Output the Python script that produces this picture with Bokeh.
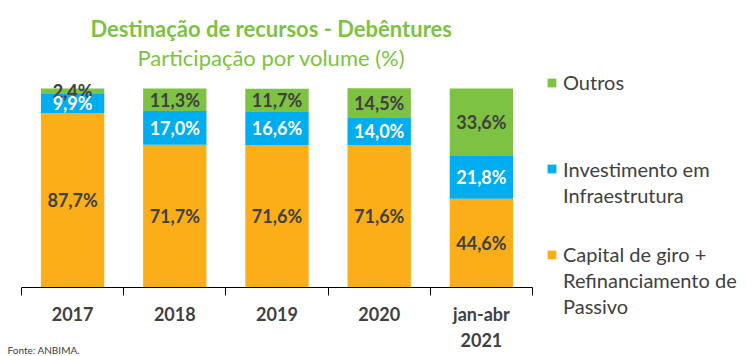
from bokeh.plotting import figure
from bokeh.models import (ColumnDataSource, Range1d, LinearAxis, FixedTicker, Title,
                          Legend, LegendItem, Label)
from bokeh.core.properties import value
from bokeh.embed import file_html
from bokeh.resources import INLINE

categories = ["2017", "2018", "2019", "2020", "jan-abr\n2021"]
capital = [87.7, 71.7, 71.6, 71.6, 44.6]
infra = [9.9, 17.0, 16.6, 14.0, 21.8]
outros = [2.4, 11.3, 11.7, 14.5, 33.6]

C_CAP = "#FBAE17"
C_INF = "#00AEEF"
C_OUT = "#7DC242"
DARK = "#404040"
FONT = "Lato"

W, H = 751, 356
TOP = 70                     # title band height
X0, X1 = 21, 532             # pixel span of the five categories
Y0, Y100 = 287, 88           # pixel rows of 0 % and 100 %
n = len(categories)
ux = (X1 - X0) / n
uy = (Y0 - Y100) / 100.0

xs = [i + 0.5 for i in range(n)]
src = ColumnDataSource(dict(x=xs, capital=capital, infra=infra, outros=outros))

p = figure(width=W, height=H, output_backend="svg", toolbar_location=None,
           x_range=Range1d(-X0 / ux, n + (W - X1) / ux),
           y_range=Range1d(-(H - Y0) / uy, 100 + (Y100 - TOP) / uy),
           x_axis_type=None, y_axis_type=None,
           min_border_left=0, min_border_right=0, min_border_top=TOP, min_border_bottom=0)
p.outline_line_color = None
p.xgrid.visible = False
p.ygrid.visible = False

rs = p.vbar_stack(["capital", "infra", "outros"], x="x", width=0.62, source=src,
                  color=[C_CAP, C_INF, C_OUT], line_color=None)

# data labels
lx, ly, lt, wx, wy, wt = [], [], [], [], [], []
for i, x in enumerate(xs):
    c, f, o = capital[i], infra[i], outros[i]
    lx += [x, x]
    ly += [c / 2, c + f + o / 2]
    lt += [f"{c:.1f}%".replace(".", ","), f"{o:.1f}%".replace(".", ",")]
    wx.append(x)
    wy.append(c + f / 2)
    wt.append(f"{f:.1f}%".replace(".", ","))
p.text(lx, ly, text=lt, text_align="center", text_baseline="middle",
       text_font=value(FONT), text_font_style="bold", text_font_size="18px", text_color=DARK)
p.text(wx, wy, text=wt, text_align="center", text_baseline="middle",
       text_font=value(FONT), text_font_style="bold", text_font_size="18px", text_color="white")

# category axis: labels at centres, tick marks at category boundaries
ax = LinearAxis(ticker=FixedTicker(ticks=xs, minor_ticks=list(range(n + 1))),
                fixed_location=0, bounds=(0, n))
ax.major_label_overrides = {x: c for x, c in zip(xs, categories)}
ax.axis_line_color = "black"
ax.major_tick_line_color = None
ax.major_tick_out = 0
ax.major_tick_in = 0
ax.minor_tick_line_color = "black"
ax.minor_tick_out = 8
ax.minor_tick_in = 0
ax.major_label_standoff = 7
ax.major_label_text_font = FONT
ax.major_label_text_font_style = "bold"
ax.major_label_text_font_size = "18px"
ax.major_label_text_color = DARK
ax.major_label_text_line_height = 1.2
p.add_layout(ax, "below")

# titles
p.title = Title(text="Destinação de recursos - Debêntures", align="left", offset=90,
                text_font=FONT, text_font_style="bold", text_font_size="22px",
                text_color=C_OUT, standoff=0)
p.add_layout(Title(text="Participação por volume (%)", align="left", offset=137,
                   text_font=FONT, text_font_style="normal", text_font_size="22px",
                   text_color=C_OUT, standoff=0), "above")

# legends (location = bottom-left corner, measured from the frame's bottom-left)
LEG_FS = 20
LEG_LH = 1.2

def mk_legend(label, r, centre_px, with_glyph=True):
    bottom_px = centre_px - 1.5 + LEG_FS * LEG_LH / 2
    lg = Legend(items=[LegendItem(label=label, renderers=[r])],
                location=(546 if with_glyph else 563, H - bottom_px),
                glyph_width=11 if with_glyph else 0, glyph_height=11,
                label_standoff=6 if with_glyph else 0,
                padding=0, margin=0, spacing=0,
                label_text_font=FONT, label_text_font_size=f"{LEG_FS}px",
                label_text_color=DARK, label_text_line_height=LEG_LH,
                background_fill_alpha=0, border_line_color=None)
    p.add_layout(lg, "center")

mk_legend("Outros", rs[2], 83.5)
mk_legend("Investimento em", rs[1], 170)
mk_legend("Infraestrutura", rs[1], 196, with_glyph=False)
mk_legend("Capital de giro +", rs[0], 255.5)
mk_legend("Refinanciamento de", rs[0], 281.5, with_glyph=False)
mk_legend("Passivo", rs[0], 307.5, with_glyph=False)

p.add_layout(Label(x=(7 - X0) / ux, y=-(355 - Y0) / uy, text="Fonte: ANBIMA.",
                   text_font=FONT, text_font_size="10px", text_color=DARK,
                   text_baseline="bottom"))

open("out.html", "w").write(file_html(p, INLINE))
